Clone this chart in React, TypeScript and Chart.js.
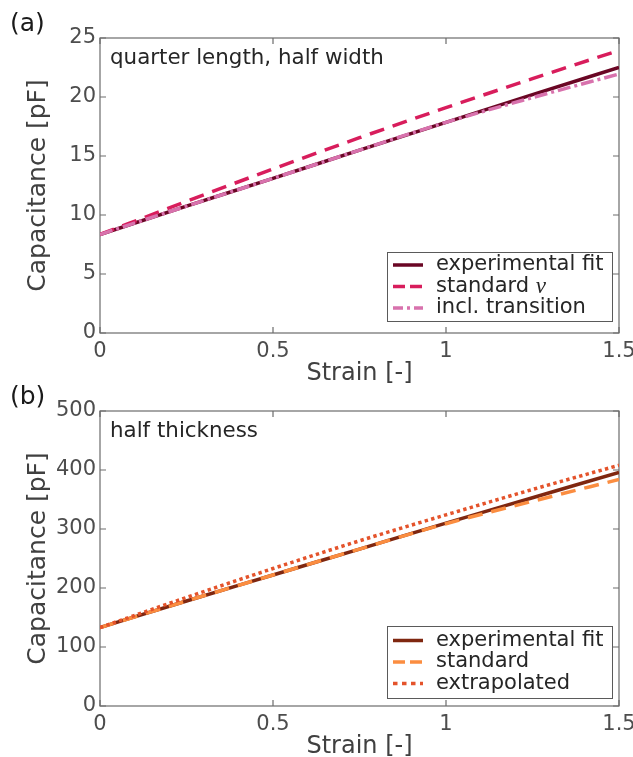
import React, { useEffect, useRef } from 'react';
import { Chart, registerables } from 'chart.js';

Chart.register(...registerables);

// ---------- data ----------
const strain = [0, 0.25, 0.5, 0.75, 1, 1.25, 1.5];
const xTickValues = [0, 0.5, 1, 1.5];
const xTickLabels = ['0', '0.5', '1', '1.5'];

const aFit = [8.35, 10.75, 13.1, 15.5, 17.85, 20.2, 22.5];
const aStandard = [8.35, 11.15, 13.9, 16.55, 19.1, 21.55, 23.95];
const aTransition = [8.35, 10.75, 13.1, 15.5, 17.85, 19.95, 21.95];
const aYTicks = [0, 5, 10, 15, 20, 25];

const bFit = [133, 178, 222, 266, 310, 353, 396];
const bStandard = [133, 178, 222, 266, 309, 347, 384];
const bExtrapolated = [133, 184, 233, 280, 324, 367, 408];
const bYTicks = [0, 100, 200, 300, 400, 500];

const aLabels = ['experimental fit', 'standard ν', 'incl. transition'];
const bLabels = ['experimental fit', 'standard', 'extrapolated'];

const FONT = '"DejaVu Sans", Verdana, sans-serif';
const W = 633;
const H = 395;
const PLOT_TOP = 38;
const PLOT_BOTTOM = 333;

type Series = { label: string; values: number[]; color: string; dash: number[]; legendDash: number[] };
type Panel = {
  tag: string;
  note: string;
  yTicks: number[];
  series: Series[];
  legendBottomInset: number;
  legendHeight: number;
};

const panelA: Panel = {
  tag: '(a)',
  note: 'quarter length, half width',
  yTicks: aYTicks,
  legendBottomInset: 12,
  legendHeight: 69,
  series: [
    { label: aLabels[0], values: aFit, color: '#6a0624', dash: [], legendDash: [] },
    { label: aLabels[1], values: aStandard, color: '#d81d5c', dash: [15, 9], legendDash: [12, 5] },
    { label: aLabels[2], values: aTransition, color: '#d872ad', dash: [13, 4, 3, 4], legendDash: [10, 4, 3, 4] },
  ],
};

const panelB: Panel = {
  tag: '(b)',
  note: 'half thickness',
  yTicks: bYTicks,
  legendBottomInset: 8,
  legendHeight: 72,
  series: [
    { label: bLabels[0], values: bFit, color: '#7f2710', dash: [], legendDash: [] },
    { label: bLabels[1], values: bStandard, color: '#fb8d40', dash: [15, 9], legendDash: [12, 5] },
    { label: bLabels[2], values: bExtrapolated, color: '#e4532b', dash: [3.4, 3.3], legendDash: [4.5, 4.5] },
  ],
};

function buildChart(canvas: HTMLCanvasElement, p: Panel) {
  const yMin = p.yTicks[0];
  const yMax = p.yTicks[p.yTicks.length - 1];
  const step = p.yTicks[1] - p.yTicks[0];

  const frame = {
    id: 'frame',
    beforeDatasetsDraw(chart: any) {
      const { ctx, chartArea: ca, scales } = chart;
      ctx.save();
      ctx.strokeStyle = '#6c6c6c';
      ctx.lineWidth = 1.2;
      ctx.strokeRect(ca.left, ca.top, ca.right - ca.left, ca.bottom - ca.top);
      const tl = 6;
      ctx.beginPath();
      xTickValues.forEach((v) => {
        const x = scales.x.getPixelForValue(v);
        ctx.moveTo(x, ca.bottom);
        ctx.lineTo(x, ca.bottom - tl);
        ctx.moveTo(x, ca.top);
        ctx.lineTo(x, ca.top + tl);
      });
      p.yTicks.forEach((v) => {
        const y = scales.y.getPixelForValue(v);
        ctx.moveTo(ca.left, y);
        ctx.lineTo(ca.left + tl, y);
        ctx.moveTo(ca.right, y);
        ctx.lineTo(ca.right - tl, y);
      });
      ctx.stroke();
      // panel tag and note
      ctx.fillStyle = '#1a1a1a';
      ctx.textBaseline = 'alphabetic';
      ctx.textAlign = 'left';
      ctx.font = `25px ${FONT}`;
      ctx.fillText(p.tag, 10, 31);
      ctx.fillStyle = '#262626';
      ctx.font = `21.4px ${FONT}`;
      ctx.fillText(p.note, ca.left + 10, ca.top + 26);
      ctx.restore();
    },
  };

  const legend = {
    id: 'boxLegend',
    afterDatasetsDraw(chart: any) {
      const { ctx, chartArea: ca } = chart;
      const bw = 225;
      const bh = p.legendHeight;
      const bx = ca.right - 7 - bw;
      const by = ca.bottom - p.legendBottomInset - bh;
      ctx.save();
      ctx.fillStyle = '#ffffff';
      ctx.fillRect(bx, by, bw, bh);
      ctx.strokeStyle = '#5a5a5a';
      ctx.lineWidth = 1;
      ctx.strokeRect(bx + 0.5, by + 0.5, bw, bh);
      const rowH = 21.5;
      const y0 = by + bh / 2 - rowH;
      p.series.forEach((s, i) => {
        const y = y0 + i * rowH;
        ctx.beginPath();
        ctx.setLineDash(s.legendDash);
        ctx.strokeStyle = s.color;
        ctx.lineWidth = 3.5;
        ctx.lineCap = 'butt';
        ctx.moveTo(bx + 6, y);
        ctx.lineTo(bx + 36, y);
        ctx.stroke();
        ctx.setLineDash([]);
        ctx.fillStyle = '#262626';
        ctx.textBaseline = 'middle';
        ctx.textAlign = 'left';
        const tx = bx + 49;
        if (s.label.endsWith('ν')) {
          const head = s.label.slice(0, -1);
          ctx.font = `21px ${FONT}`;
          ctx.fillText(head, tx, y);
          const w = ctx.measureText(head).width;
          ctx.font = `italic 23px "Liberation Serif", "DejaVu Serif", serif`;
          ctx.fillText('ν', tx + w, y);
        } else {
          ctx.font = `21px ${FONT}`;
          ctx.fillText(s.label, tx, y);
        }
      });
      ctx.restore();
    },
  };

  const n = p.series.length;
  return new Chart(canvas, {
    type: 'line',
    data: {
      datasets: p.series.map((s, i) => ({
        label: s.label,
        data: strain.map((x, j) => ({ x, y: s.values[j] })),
        borderColor: s.color,
        backgroundColor: s.color,
        borderWidth: 3.5,
        borderDash: s.dash,
        borderCapStyle: 'butt',
        pointRadius: 0,
        cubicInterpolationMode: 'monotone',
        fill: false,
        order: n - i,
      })),
    },
    options: {
      animation: false,
      responsive: false,
      maintainAspectRatio: false,
      layout: { padding: { top: PLOT_TOP, right: 14, left: 0, bottom: 0 } },
      plugins: { legend: { display: false }, tooltip: { enabled: false } },
      scales: {
        x: {
          type: 'linear',
          min: 0,
          max: 1.5,
          grid: { display: false, drawTicks: false },
          border: { display: false },
          afterBuildTicks: (scale: any) => {
            scale.ticks = xTickValues.map((v) => ({ value: v }));
          },
          ticks: {
            autoSkip: false,
            maxRotation: 0,
            padding: 6,
            color: '#4d4d4d',
            font: { family: FONT, size: 21 },
            callback: (v: any) => xTickLabels[xTickValues.indexOf(Number(v))] ?? '',
          },
          title: {
            display: true,
            text: 'Strain [-]',
            color: '#404040',
            font: { family: FONT, size: 24 },
            padding: { top: 0, bottom: 7 },
          },
          afterFit: (scale: any) => {
            scale.height = H - PLOT_BOTTOM;
            scale.paddingLeft = 0;
            scale.paddingRight = 0;
          },
        },
        y: {
          type: 'linear',
          min: yMin,
          max: yMax,
          grid: { display: false, drawTicks: false },
          border: { display: false },
          ticks: {
            stepSize: step,
            padding: 4,
            color: '#4d4d4d',
            font: { family: FONT, size: 21 },
          },
          title: {
            display: true,
            text: 'Capacitance [pF]',
            color: '#404040',
            font: { family: FONT, size: 25 },
            padding: { top: 23, bottom: 0 },
          },
          afterFit: (scale: any) => {
            scale.width = 100;
            scale.paddingTop = 0;
            scale.paddingBottom = 0;
          },
        },
      },
    },
    plugins: [frame, legend],
  } as any);
}

function PanelChart({ panel, top }: { panel: Panel; top: number }) {
  const ref = useRef<HTMLCanvasElement | null>(null);
  useEffect(() => {
    if (!ref.current) return;
    const c = buildChart(ref.current, panel);
    return () => c.destroy();
  }, [panel]);
  return (
    <div style={{ position: 'absolute', left: 0, top, width: W, height: H }}>
      <canvas ref={ref} width={W} height={H} style={{ width: W, height: H, display: 'block' }} />
    </div>
  );
}

export default function App() {
  return (
    <div style={{ position: 'absolute', left: 0, top: 0, width: W, height: 757, background: '#fff', overflow: 'hidden' }}>
      <PanelChart panel={panelA} top={0} />
      <PanelChart panel={panelB} top={373} />
    </div>
  );
}
